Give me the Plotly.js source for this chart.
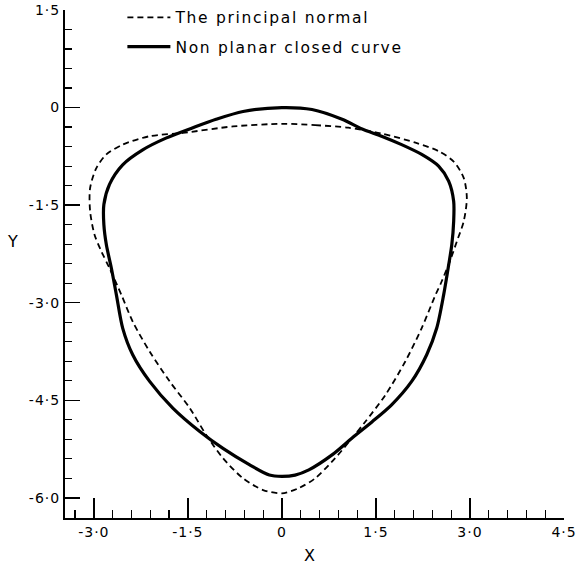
<!DOCTYPE html>
<html>
<head>
<meta charset="utf-8">
<script src="https://cdn.plot.ly/plotly-3.0.1.min.js"></script>
<style>
  html, body { margin: 0; padding: 0; background: #fff; }
  #chart { width: 580px; height: 567px; }
  .legendtext { letter-spacing: 1.7px; }
  .xtick text, .ytick text { letter-spacing: 1px; }
</style>
</head>
<body>
<div id="chart"></div>
<script>
// Non planar closed curve (solid), traced clockwise from the top
const curveX = [0, 0.48, 0.96, 1.28, 1.59, 1.91, 2.23, 2.50, 2.66, 2.74, 2.74, 2.71, 2.66, 2.58,
  2.47, 2.31, 2.07, 1.75, 1.44, 1.12, 0.80, 0.43, 0.21, 0, -0.20, -0.52, -0.94, -1.31, -1.74,
  -2.11, -2.38, -2.54, -2.64, -2.72, -2.80, -2.84, -2.84, -2.75, -2.54, -2.22, -1.85, -1.42,
  -1.05, -0.62, 0];
const curveY = [0, -0.03, -0.18, -0.33, -0.44, -0.57, -0.72, -0.90, -1.13, -1.44, -1.75, -2.11,
  -2.42, -2.88, -3.39, -3.80, -4.21, -4.57, -4.83, -5.08, -5.34, -5.57, -5.65, -5.67, -5.65,
  -5.49, -5.24, -4.98, -4.62, -4.21, -3.80, -3.39, -2.88, -2.47, -2.11, -1.80, -1.49, -1.18,
  -0.88, -0.65, -0.47, -0.31, -0.18, -0.06, 0];

// The principal normal (dashed)
const normalX = [0, 0.53, 1.06, 1.59, 2.13, 2.50, 2.74, 2.90, 2.95, 2.90, 2.79, 2.68, 2.55, 2.45,
  2.23, 1.97, 1.65, 1.33, 1.12, 0.85, 0.53, 0.27, 0, -0.30, -0.62, -0.94, -1.21, -1.47, -1.79,
  -2.11, -2.38, -2.56, -2.75, -2.88, -2.99, -3.06, -3.06, -2.96, -2.80, -2.54, -2.11, -1.58,
  -0.78, 0];
const normalY = [-0.25, -0.27, -0.31, -0.40, -0.54, -0.67, -0.83, -1.08, -1.39, -1.75, -2.06,
  -2.36, -2.67, -2.88, -3.39, -3.90, -4.42, -4.83, -5.08, -5.39, -5.70, -5.85, -5.93, -5.88,
  -5.70, -5.39, -5.03, -4.62, -4.21, -3.75, -3.29, -2.88, -2.47, -2.21, -1.95, -1.59, -1.24,
  -0.93, -0.72, -0.57, -0.44, -0.39, -0.29, -0.25];

const seriesNames = ['The principal normal', 'Non planar closed curve'];

// Axis tick values and their printed labels
const xTickVals = [-3.0, -1.5, 0, 1.5, 3.0, 4.5];
const xTickText = ['-3·0', '-1·5', '0', '1·5', '3·0', '4·5'];
const yTickVals = [1.5, 0, -1.5, -3.0, -4.5, -6.0];
const yTickText = ['1·5', '0', '-1·5', '-3·0', '-4·5', '-6·0'];

const font = 'DejaVu Sans, sans-serif';

const traces = [
  {
    x: normalX, y: normalY, mode: 'lines', name: seriesNames[0], legendgroup: 'a',
    line: { color: '#000', width: 1.8, dash: '6px,4px', shape: 'spline', smoothing: 0.8 }
  },
  {
    x: curveX, y: curveY, mode: 'lines', name: seriesNames[1], legendgroup: 'b',
    line: { color: '#000', width: 3.2, shape: 'spline', smoothing: 0.8 }
  }
];

const axisCommon = {
  showgrid: false, zeroline: false, showline: true, linecolor: '#000', linewidth: 2,
  ticks: 'inside', tickcolor: '#000', tickwidth: 1.5, tickmode: 'array',
  tickfont: { family: font, size: 14, color: '#000' }
};

const layout = {
  width: 580, height: 567,
  margin: { l: 65, r: 16, t: 10, b: 49, autoexpand: false },
  paper_bgcolor: '#fff', plot_bgcolor: '#fff',
  showlegend: true,
  legend: {
    x: 0.115, y: 1.018, xanchor: 'left', yanchor: 'top',
    bgcolor: 'rgba(0,0,0,0)', itemwidth: 43, tracegroupgap: 6,
    font: { family: font, size: 15.5, color: '#000' }
  },
  xaxis: Object.assign({}, axisCommon, {
    range: [-3.46, 4.5], tickvals: xTickVals, ticktext: xTickText, ticklen: 20,
    minor: { ticks: 'inside', dtick: 0.3, tick0: 0, ticklen: 8, tickwidth: 1.2, tickcolor: '#000' }
  }),
  yaxis: Object.assign({}, axisCommon, {
    range: [-6.31, 1.5], tickvals: yTickVals, ticktext: yTickText, ticklen: 15,
    minor: { ticks: 'inside', dtick: 0.3, tick0: 0, ticklen: 7, tickwidth: 1.2, tickcolor: '#000' }
  }),
  annotations: [
    { text: 'X', xref: 'paper', yref: 'paper', x: (309 - 65) / 499, y: (518 - 555) / 508,
      xanchor: 'center', yanchor: 'middle',
      showarrow: false, font: { family: font, size: 16, color: '#000' } },
    { text: 'Y', xref: 'paper', yref: 'paper', x: (12 - 65) / 499, y: (518 - 242) / 508,
      xanchor: 'center', yanchor: 'middle',
      showarrow: false, font: { family: font, size: 16, color: '#000' } }
  ]
};

Plotly.newPlot('chart', traces, layout, { displayModeBar: false, staticPlot: true });
</script>
</body>
</html>
